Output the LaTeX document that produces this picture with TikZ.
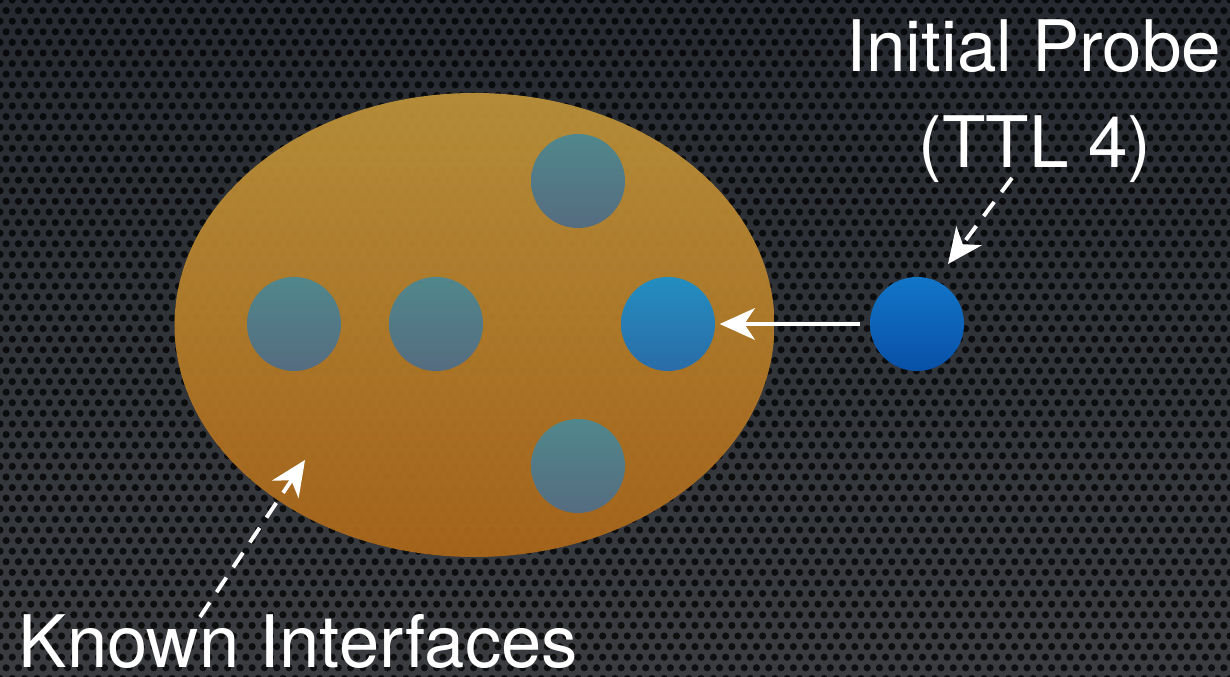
\documentclass[tikz,border=0pt]{standalone}
\usepackage{fontspec}
\setmainfont{TeX Gyre Heros}
\usetikzlibrary{arrows.meta}
\definecolor{bgtop}{RGB}{38,42,48}
\definecolor{bgbot}{RGB}{58,60,64}
\definecolor{ovtop}{RGB}{188,146,58}
\definecolor{ovbot}{RGB}{170,102,26}
\definecolor{tealtop}{RGB}{80,135,140}
\definecolor{tealbot}{RGB}{85,108,128}
\definecolor{bluetop}{RGB}{35,142,192}
\definecolor{bluebot}{RGB}{42,108,168}
\definecolor{probetop}{RGB}{18,118,200}
\definecolor{probebot}{RGB}{8,80,168}
\newlength{\pxu}
\setlength{\pxu}{0.01cm}
\tikzset{
  known/.style={circle, minimum size=94\pxu, inner sep=0pt, top color=tealtop, bottom color=tealbot, draw=none},
  hit/.style={circle, minimum size=94\pxu, inner sep=0pt, top color=bluetop, bottom color=bluebot, draw=none},
  probe/.style={circle, minimum size=94\pxu, inner sep=0pt, top color=probetop, bottom color=probebot, draw=none},
  lbl/.style={text=white, font=\fontsize{20.2}{24}\selectfont, inner sep=0pt},
  biglbl/.style={lbl, font=\fontsize{20.6}{24}\selectfont},
  solidarrow/.style={draw=white, line width=1.1pt, -{Stealth[length=10pt,width=9pt,inset=3pt]}},
  dasharrow/.style={draw=white, line width=1.1pt, dash pattern=on 5pt off 3.5pt, -{Stealth[length=10pt,width=9pt,inset=3pt]}}
}
\begin{document}
\begin{tikzpicture}[x=0.01cm,y=-0.01cm]
\useasboundingbox (0,0) rectangle (1230,677);
\shade[top color=bgtop, bottom color=bgbot] (0,0) rectangle (1230,677);
\foreach \r in {0,...,65}{
  \pgfmathsetmacro{\off}{mod(\r,2)*6.15}
  \foreach \c in {0,...,100}{
    \fill[black, opacity=0.75] (\c*12.3+\off, \r*10.6) circle (3.6);
  }
}
\shade[top color=ovtop, bottom color=ovbot, opacity=0.95] (474.5,325) ellipse (300 and 232);
\node[known] (k1) at (294,324) {};
\node[known] (k2) at (436,324) {};
\node[known] (k3) at (578,181) {};
\node[known] (k4) at (578,466) {};
\node[hit] (k5) at (668,324) {};
\node[probe] (p) at (917,324) {};
\draw[solidarrow] ([xshift=-9\pxu]p.west) -- ([xshift=4\pxu]k5.east);
\node[lbl, anchor=base east] (t1) at (1222,72) {Initial Probe};
\node[lbl, anchor=base] (t2) at (1035,168) {(TTL 4)};
\node[biglbl, anchor=base west] (t3) at (18,668) {Known Interfaces};
\coordinate (d1s) at (1012,178);
\coordinate (d1e) at (948,264);
\coordinate (d2s) at (200,617);
\coordinate (d2e) at (305,460);
\draw[dasharrow] (d1s) -- (d1e);
\draw[dasharrow] (d2s) -- (d2e);
\end{tikzpicture}
\end{document}
